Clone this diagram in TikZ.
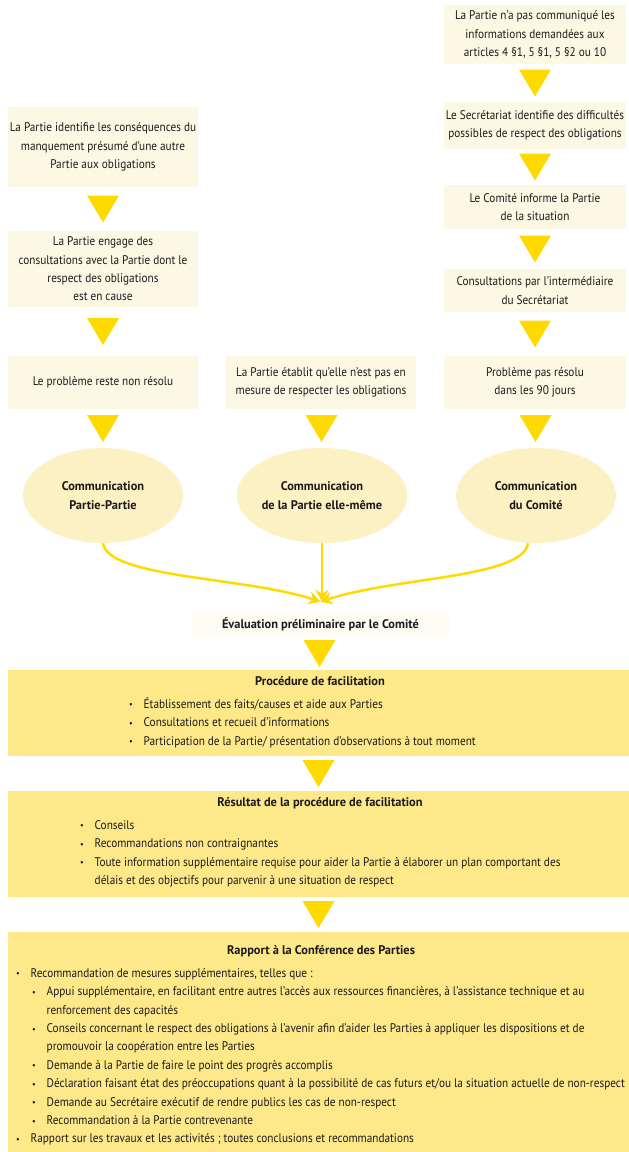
\documentclass[tikz,border=0pt]{standalone}
\usepackage{fontspec}
\setmainfont{PT Sans}[FakeStretch=0.9,BoldFeatures={FakeStretch=0.99}]
\usepackage{tikz}
\usetikzlibrary{shapes.geometric,arrows.meta,calc}
\definecolor{creme}{HTML}{FCF8E4}
\definecolor{paille}{HTML}{FCF1C3}
\definecolor{jaune}{HTML}{FFDA00}
\definecolor{ocre}{HTML}{FDE88A}
\definecolor{ivoire}{HTML}{FEFCF2}
\definecolor{encre}{HTML}{1E1A1B}
\newcommand\puce{\rule{0pt}{13pt}\makebox[14.5pt][l]{\raisebox{.3pt}{\small\textbullet}}}

\begin{document}
\begin{tikzpicture}[x=1pt,y=-1pt,
  every node/.style={font=\fontsize{12.5}{18.4}\selectfont,text=encre,inner sep=0pt},
  boite/.style={fill=creme,align=center,minimum width=190pt},
  bulle/.style={ellipse,fill=paille,align=center,minimum width=160pt,minimum height=95pt,
    font=\fontsize{12.5}{18.4}\selectfont\bfseries},
  cadre/.style={fill=ocre,minimum width=621pt},
  titre/.style={font=\fontsize{12.5}{18.4}\selectfont\bfseries},
  liste/.style={anchor=north west,align=left},
  fleche/.style={draw=jaune,line width=2.5pt,-{Stealth[length=12pt,width=13pt,inset=4pt]}}]
\useasboundingbox (0,0) rectangle (629,1152);

\node[boite,minimum width=182pt,minimum height=59pt] (r1) at (535,34.5) {La Partie n’a pas communiqué les\\informations demandées aux\\articles 4 §1, 5 §1, 5 §2 ou 10};
\node[boite,minimum width=182pt,minimum height=47pt] (r2) at (535,125.5) {Le Secrétariat identifie des difficultés\\possibles de respect des obligations};
\node[boite,minimum width=182pt,minimum height=44pt] (r3) at (535,207) {Le Comité informe la Partie\\de la situation};
\node[boite,minimum width=182pt,minimum height=43pt] (r4) at (535,290.5) {Consultations par l’intermédiaire\\du Secrétariat};
\node[boite,minimum width=182pt,minimum height=53pt] (r5) at (535,382.5) {Problème pas résolu\\dans les 90 jours};

\node[boite,minimum height=80pt] (l1) at (103,147) {La Partie identifie les conséquences du\\manquement présumé d’une autre\\Partie aux obligations};
\node[boite,minimum height=76pt] (l2) at (103,269) {La Partie engage des\\consultations avec la Partie dont le\\respect des obligations\\est en cause};
\node[boite,minimum height=53pt] (l3) at (103,382.5) {Le problème reste non résolu};

\node[boite,minimum height=53pt] (m3) at (321,382.5) {La Partie établit qu’elle n’est pas en\\mesure de respecter les obligations};

\node[bulle] (eL) at (103,495.5) {Communication\\Partie-Partie};
\node[bulle] (eM) at (322,495.5) {Communication\\de la Partie elle-même};
\node[bulle] (eR) at (536,495.5) {Communication\\du Comité};

\node[fill=ivoire,minimum width=257pt,minimum height=26pt,titre] (eval) at (320.5,624) {Évaluation préliminaire par le Comité};
\coordinate (conv) at ([yshift=9pt]eval.north);

\node[cadre,minimum height=86pt] (proc) at (318.5,713) {};
\node[titre] (procT) at (320,681) {Procédure de facilitation};
\node[liste] (procL) at (129,695) {\puce Établissement des faits/causes et aide aux Parties\\
\puce Consultations et recueil d’informations\\
\puce Participation de la Partie/ présentation d’observations à tout moment};

\node[cadre,minimum height=106pt] (res) at (318.5,844) {};
\node[titre] (resT) at (320,803) {Résultat de la procédure de facilitation};
\node[liste] (resL) at (80,816) {\puce Conseils\\
\puce Recommandations non contraignantes\\
\puce Toute information supplémentaire requise pour aider la Partie à élaborer un plan comportant des\\
\hspace*{14.5pt}délais et des objectifs pour parvenir à une situation de respect};

\node[cadre,minimum height=220pt] (rap) at (318.5,1042) {};
\node[titre] (rapT) at (321,951) {Rapport à la Conférence des Parties};
\node[liste] (rapL) at (16,964) {\puce Recommandation de mesures supplémentaires, telles que :\\
\hspace*{16pt}\puce Appui supplémentaire, en facilitant entre autres l’accès aux ressources financières, à l’assistance technique et au\\
\hspace*{30.5pt}renforcement des capacités\\
\hspace*{16pt}\puce Conseils concernant le respect des obligations à l’avenir afin d’aider les Parties à appliquer les dispositions et de\\
\hspace*{30.5pt}promouvoir la coopération entre les Parties\\
\hspace*{16pt}\puce Demande à la Partie de faire le point des progrès accomplis\\
\hspace*{16pt}\puce Déclaration faisant état des préoccupations quant à la possibilité de cas futurs et/ou la situation actuelle de non-respect\\
\hspace*{16pt}\puce Demande au Secrétaire exécutif de rendre publics les cas de non-respect\\
\hspace*{16pt}\puce Recommandation à la Partie contrevenante\\
\puce Rapport sur les travaux et les activités ; toutes conclusions et recommandations};

\fill[jaune] ($(r1.south)!.5!(r2.north)$) +(-16,-13.5) -- +(16,-13.5) -- +(0,13.5) -- cycle;
\fill[jaune] ($(r2.south)!.5!(r3.north)$) +(-16,-13.5) -- +(16,-13.5) -- +(0,13.5) -- cycle;
\fill[jaune] ($(r3.south)!.5!(r4.north)$) +(-16,-13.5) -- +(16,-13.5) -- +(0,13.5) -- cycle;
\fill[jaune] ($(r4.south)!.5!(r5.north)$) +(-16,-13.5) -- +(16,-13.5) -- +(0,13.5) -- cycle;
\fill[jaune] ($(r5.south)!.5!(eR.north)$) +(-16,-13.5) -- +(16,-13.5) -- +(0,13.5) -- cycle;
\fill[jaune] ($(l1.south)!.5!(l2.north)$) +(-16,-13.5) -- +(16,-13.5) -- +(0,13.5) -- cycle;
\fill[jaune] ($(l2.south)!.5!(l3.north)$) +(-16,-13.5) -- +(16,-13.5) -- +(0,13.5) -- cycle;
\fill[jaune] ($(l3.south)!.5!(eL.north)$) +(-16,-13.5) -- +(16,-13.5) -- +(0,13.5) -- cycle;
\fill[jaune] ($(m3.south)!.5!(eM.north)$) +(-16,-13.5) -- +(16,-13.5) -- +(0,13.5) -- cycle;
\fill[jaune] ($(eval.south)!.5!(proc.north)$) +(-16,-13.5) -- +(16,-13.5) -- +(0,13.5) -- cycle;
\fill[jaune] ($(proc.south)!.5!(res.north)$) +(-16,-13.5) -- +(16,-13.5) -- +(0,13.5) -- cycle;
\fill[jaune] ($(res.south)!.5!(rap.north)$) +(-16,-13.5) -- +(16,-13.5) -- +(0,13.5) -- cycle;

\draw[fleche] (eL.south) .. controls +(5,35) and +(-75,-25) .. (conv);
\draw[fleche] (eM.south) -- (eM.south |- conv);
\draw[fleche] ([xshift=-8pt]eR.south) .. controls +(-5,35) and +(75,-25) .. (conv);
\end{tikzpicture}
\end{document}
